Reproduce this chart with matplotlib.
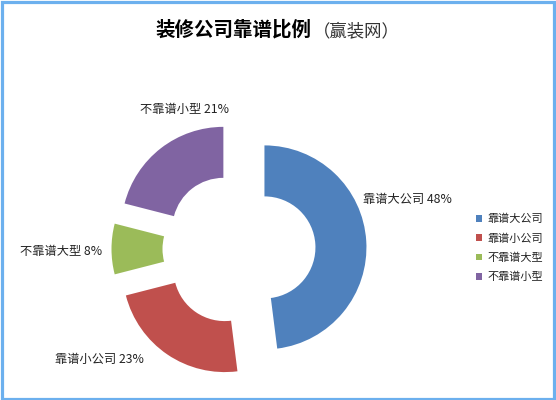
import matplotlib
matplotlib.use('Agg')
import matplotlib.pyplot as plt
from matplotlib.patches import Rectangle

plt.rcParams['font.family'] = ['Noto Sans CJK SC', 'DejaVu Sans']

# Data
categories = ['靠谱大公司', '靠谱小公司', '不靠谱大型', '不靠谱小型']
shares = [48, 23, 8, 21]
colors = ['#4F81BD', '#C0504D', '#9BBB59', '#8064A2']

# Layout (pixels of the 556x400 canvas)
W, H = 556, 400
cx, cy, R = 239, 249, 102
label_px = [(363, 199), (55, 359), (20, 252), (140, 109)]

fig = plt.figure(figsize=(W / 100, H / 100), dpi=100)
ax = fig.add_axes([0, 0, 1, 1])

wedges, _ = ax.pie(shares, colors=colors, startangle=90, counterclock=False,
                   explode=[0.25] * len(shares), radius=1,
                   wedgeprops=dict(width=0.5, linewidth=0))
ax.set_aspect('auto')
ax.set_xlim(-cx / R, (W - cx) / R)
ax.set_ylim(-(H - cy) / R, cy / R)
ax.axis('off')

# Data labels
for (px, py), name, v in zip(label_px, categories, shares):
    ax.text((px - cx) / R, (cy - py) / R, f'{name} {v}%', fontsize=8.8,
            color='#222222', ha='left', va='center')

# Title
fig.text(155 / W, 1 - 30 / H, '装修公司靠谱比例', fontsize=14, fontweight='bold',
         ha='left', va='center', color='black')
fig.text(313 / W, 1 - 31 / H, '（赢装网）', fontsize=12.5, ha='left', va='center',
         color='#333333')

# Legend
leg = ax.legend(wedges, categories, loc='center left',
                bbox_to_anchor=(476 / W, 1 - 248 / H), bbox_transform=fig.transFigure,
                frameon=False, fontsize=8, handlelength=0.55, handleheight=0.55,
                handletextpad=0.45, labelspacing=0.8, borderpad=0, borderaxespad=0)
for t in leg.get_texts():
    t.set_color('#222222')

# Chart border
fig.patches.append(Rectangle((1.5 / W, 1.5 / H), 1 - 4 / W, 1 - 3.5 / H,
                             transform=fig.transFigure, fill=False,
                             edgecolor='#6CB0EE', linewidth=2.3))

fig.savefig('out.png', dpi=100, facecolor='white')
